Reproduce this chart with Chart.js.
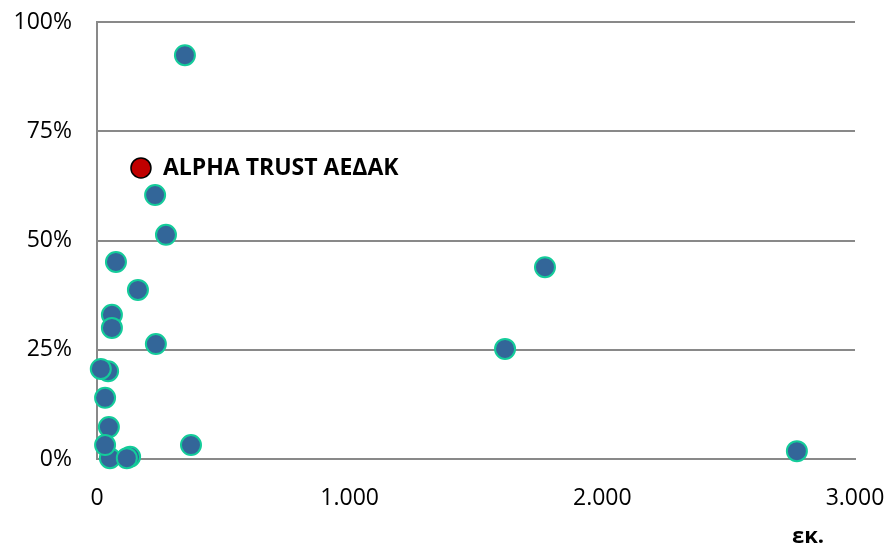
<!DOCTYPE html>
<html>
<head>
<meta charset="utf-8">
<script src="https://cdn.jsdelivr.net/npm/chart.js@4"></script>
<style>
  html, body { margin: 0; padding: 0; background: #ffffff; }
  #wrap { width: 890px; height: 551px; position: relative; }
</style>
</head>
<body>
<div id="wrap"><canvas id="scatterChart"></canvas></div>
<script>
// companies: x = size (thousand), y = percentage
const xValues = [348, 230, 273, 75, 162, 59, 59, 233, 1615, 1773, 44, 15, 32, 47, 51, 32, 131, 118, 372, 2770];
const yValues = [92.4, 60.4, 51.3, 45.1, 38.7, 33.0, 30.0, 26.3, 25.2, 43.9, 20.1, 20.6, 14.0, 7.3, 0.2, 3.2, 0.5, 0.2, 3.2, 1.8];

const highlightName = "ALPHA TRUST ΑΕΔΑΚ";
const highlightX = [174];
const highlightY = [66.6];

const xTicks = [0, 1000, 2000, 3000];
const yTicks = [0, 25, 50, 75, 100];
const xTitle = "εκ.";

const toPoints = (xs, ys) => xs.map((x, i) => ({ x: x, y: ys[i] }));

const grey = "#898989";
const font = "'Open Sans', 'DejaVu Sans', sans-serif";

// name next to the red point and the unit under the x axis
const labelPlugin = {
    id: 'labels',
    afterDatasetsDraw(chart) {
        const ctx = chart.ctx;
        const pt = chart.getDatasetMeta(1).data[0];
        ctx.save();
        ctx.fillStyle = "#000000";
        ctx.font = "bold 23px " + font;
        ctx.textBaseline = "middle";
        ctx.textAlign = "left";
        ctx.fillText(highlightName, pt.x + 22, pt.y);
        ctx.font = "bold 22px " + font;
        ctx.textAlign = "center";
        ctx.fillText(xTitle, chart.chartArea.right - 47, 537);
        ctx.restore();
    }
};

const scatterConfig = {
    type: 'scatter',
    data: {
        datasets: [{
            data: toPoints(xValues, yValues),
            backgroundColor: "#336699",
            borderColor: "#14cc9a",
            borderWidth: 2,
            pointRadius: 10,
            pointHoverRadius: 10,
            clip: false
        }, {
            data: toPoints(highlightX, highlightY),
            backgroundColor: "#c00000",
            borderColor: "#000000",
            borderWidth: 1.5,
            pointRadius: 10,
            pointHoverRadius: 10,
            clip: false
        }]
    },
    options: {
        responsive: true,
        maintainAspectRatio: false,
        animation: false,
        events: [],
        layout: { padding: { top: 22, right: 35, left: 0, bottom: 0 } },
        plugins: {
            legend: { display: false },
            tooltip: { enabled: false }
        },
        scales: {
            x: {
                type: 'linear',
                min: 0,
                max: 3000,
                afterBuildTicks: (scale) => { scale.ticks = xTicks.map(v => ({ value: v })); },
                afterFit: (scale) => {
                    scale.height = 92;
                    scale.paddingLeft = 0;
                    scale.paddingRight = 0;
                },
                grid: { display: false, drawTicks: false },
                border: { display: true, color: grey, width: 2 },
                ticks: {
                    padding: 26,
                    color: "#000000",
                    font: { family: font, size: 23 },
                    callback: (v) => v.toLocaleString('de-DE')
                }
            },
            y: {
                min: 0,
                max: 100,
                afterBuildTicks: (scale) => { scale.ticks = yTicks.map(v => ({ value: v })); },
                afterFit: (scale) => {
                    scale.width = 97;
                    scale.paddingTop = 0;
                    scale.paddingBottom = 0;
                },
                grid: { color: grey, lineWidth: 2, drawTicks: false },
                border: { display: true, color: grey, width: 2 },
                ticks: {
                    padding: 25,
                    color: "#000000",
                    font: { family: font, size: 23 },
                    callback: (v) => v + "%"
                }
            }
        }
    },
    plugins: [labelPlugin]
};

const scatterChart = new Chart(
    document.getElementById('scatterChart'),
    scatterConfig
);
</script>
</body>
</html>
